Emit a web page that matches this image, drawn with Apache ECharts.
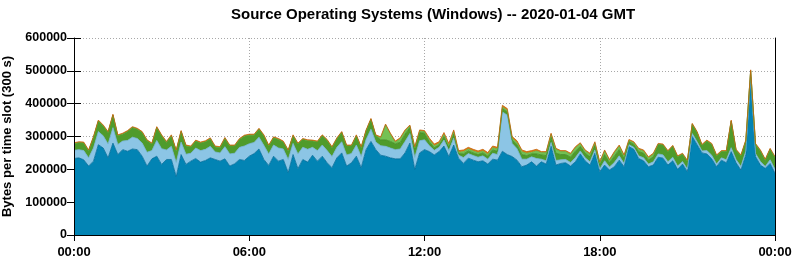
<!DOCTYPE html>
<html>
<head>
<meta charset="utf-8">
<script src="https://cdn.jsdelivr.net/npm/echarts@6/dist/echarts.min.js"></script>
<style>
html,body{margin:0;padding:0;background:#fff;}
#chart{width:795px;height:260px;}
</style>
</head>
<body>
<div id="chart"></div>
<script>
// values in thousands of bytes per 300 s slot, sampled every 10 minutes (00:00 .. 24:00)
const darkBlue = [233,235,229,210,225,275,265,235,280,245,260,255,262,260,240,210,232,240,215,230,230,178,245,215,225,
233,222,227,235,230,225,232,210,217,230,227,240,248,262,230,212,240,225,230,190,245,202,230,222,
243,225,240,220,205,235,250,210,220,240,205,260,285,260,243,240,235,232,232,250,280,200,250,260,
254,244,254,271,239,274,234,218,234,228,223,226,216,231,228,255,245,239,228,208,213,223,210,
223,216,271,213,218,220,210,223,247,226,213,249,193,213,198,208,228,208,269,261,233,226,208,213,
237,234,213,226,200,216,193,300,275,250,247,232,208,228,220,254,220,198,244,472,239,213,203,218,188];
const lightBlue = [25,25,28,25,40,40,37,42,47,31,26,33,36,34,40,42,25,48,48,29,40,43,38,31,24,
32,35,34,35,23,25,37,37,32,37,44,38,34,36,43,35,34,40,32,40,34,45,37,39,
24,32,34,37,34,32,34,34,28,34,34,31,37,23,29,30,30,28,30,35,29,36,37,30,
18,14,13,18,18,21,9,18,14,14,14,15,15,18,17,120,120,40,35,23,18,15,23,
8,10,11,14,11,10,11,13,9,9,10,10,8,13,9,13,13,10,6,6,8,9,8,10,
10,10,10,11,10,8,8,9,9,6,10,11,8,7,9,12,10,11,11,9,9,11,6,11,12];
const green = [20,21,23,21,32,32,30,35,38,26,21,27,29,28,32,35,20,39,39,23,32,35,32,25,19,
21,23,23,23,15,16,25,24,22,24,30,26,22,24,29,24,22,26,21,26,23,30,24,26,
19,26,28,31,27,26,28,27,23,28,27,26,30,19,18,20,20,18,20,22,18,25,25,20,
11,8,7,11,10,12,5,11,8,8,8,9,9,10,10,10,10,10,12,14,11,9,14,
13,16,16,22,16,15,16,19,14,14,15,14,12,19,13,19,19,15,9,9,13,14,12,15,
29,30,31,33,28,22,24,28,28,17,29,33,25,19,25,81,28,32,31,19,28,32,19,32,36];
const lightGreen = [0,0,0,0,0,0,0,0,0,0,0,0,0,0,0,0,0,0,0,0,0,0,0,0,0,
0,0,0,0,0,0,0,0,0,0,0,0,0,0,0,0,0,0,0,0,0,0,0,0,
0,0,0,0,0,0,0,0,0,0,0,0,0,0,6,45,22,5,11,10,5,5,5,5,
7,6,5,7,7,8,4,7,6,6,6,6,6,7,7,5,5,6,7,9,7,5,9,
7,9,9,12,9,9,9,11,8,7,8,8,7,11,7,11,11,8,4,5,7,7,7,8,
0,0,0,0,0,0,0,0,0,0,0,0,0,0,0,0,0,0,0,0,0,0,0,0,0];
const orange = [3,3,3,3,3,3,3,3,3,3,3,3,3,3,3,3,3,3,3,3,3,3,3,3,3,
3,3,3,3,3,3,3,3,3,3,3,3,3,3,3,3,3,3,3,3,3,3,3,3,
3,3,3,3,3,3,3,3,3,3,3,3,3,3,3,3,3,3,3,3,3,3,3,3,
5,5,5,5,5,5,5,5,5,5,5,5,5,5,5,5,5,5,5,5,5,5,5,
3,3,3,3,3,3,3,3,3,3,3,3,3,3,3,3,3,3,3,3,3,3,3,3,
3,3,3,3,3,3,3,3,3,3,3,3,3,3,3,3,3,3,3,3,3,3,3,3,3];
const yTickStep = 100000;

// category labels: time of each 10-minute sample
const times = darkBlue.map((_, i) => {
  const m = (i * 10) % 1440;
  return String(Math.floor(m / 60)).padStart(2, '0') + ':' + String(m % 60).padStart(2, '0');
});
const layers = [
  {name:'darkBlue', data:darkBlue, fill:'#0284b4', line:'#006b99'},
  {name:'lightBlue', data:lightBlue, fill:'#8cc5e5', line:'#72b2d8'},
  {name:'green', data:green, fill:'#4f9b2b', line:'#3f8a20'},
  {name:'lightGreen', data:lightGreen, fill:'#74c154', line:'#5fae40'},
  {name:'orange', data:orange, fill:'#e27b12', line:'#c4620a'}
];

const chart = echarts.init(document.getElementById('chart'), null, {renderer:'canvas'});
const font = 'Liberation Sans, Arial, sans-serif';
const dotted = {show:true, interval:35, lineStyle:{color:'#a8a8a8', type:[1,2], width:1}};
const xBase = {type:'value', min:0, max:1440, interval:360};
const yBase = {type:'value', min:0, max:600000, interval:yTickStep};
chart.setOption({
  animation:false,
  title:{text:'Source Operating Systems (Windows) -- 2020-01-04 GMT', left:226, top:2,
    textStyle:{fontFamily:font, fontSize:15, fontWeight:'bold', color:'#000'}},
  grid:{left:74, right:20, top:38, bottom:25, containLabel:false, outerBoundsMode:'none'},
  xAxis:[
    {type:'category', data:times, boundaryGap:false, position:'bottom', z:0,
      axisLine:{show:false}, axisTick:{show:false},
      axisLabel:{interval:35, margin:11, fontFamily:font, fontSize:13, fontWeight:'bold', color:'#000',
        showMinLabel:true, showMaxLabel:true},
      splitLine:dotted},
    Object.assign({}, xBase, {position:'top', z:0,
      axisLine:{show:true, lineStyle:{color:'#000', width:1}},
      axisTick:{show:true, inside:true, length:6, lineStyle:{color:'#000'}},
      axisLabel:{show:false}, splitLine:{show:false}}),
    Object.assign({}, xBase, {position:'bottom', z:10,
      axisLine:{show:true, lineStyle:{color:'#000', width:1}},
      axisTick:{show:false}, axisLabel:{show:false}, splitLine:{show:false}})
  ],
  yAxis:[
    Object.assign({}, yBase, {position:'left', z:0,
      name:'Bytes per time slot (300 s)', nameLocation:'middle', nameGap:49,
      nameTextStyle:{fontFamily:font, fontSize:13, fontWeight:'bold', color:'#000'},
      axisLine:{show:false},
      axisTick:{show:true, inside:true, length:7, lineStyle:{color:'#000'}},
      axisLabel:{margin:7, fontFamily:font, fontSize:12.5, fontWeight:'bold', color:'#000',
        formatter:(v)=>String(v)},
      splitLine:{show:true, lineStyle:{color:'#a8a8a8', type:[1,2], width:1}}}),
    Object.assign({}, yBase, {position:'right', z:0,
      axisLine:{show:false},
      axisTick:{show:true, inside:true, length:7, lineStyle:{color:'#000'}},
      axisLabel:{show:false}, splitLine:{show:false}}),
    Object.assign({}, yBase, {position:'left', z:10,
      axisLine:{show:true, lineStyle:{color:'#000', width:1}},
      axisTick:{show:false}, axisLabel:{show:false}, splitLine:{show:false}}),
    Object.assign({}, yBase, {position:'right', z:10,
      axisLine:{show:true, lineStyle:{color:'#000', width:1}},
      axisTick:{show:false}, axisLabel:{show:false}, splitLine:{show:false}})
  ],
  series: layers.map(l => ({
    name:l.name, type:'line', stack:'total', xAxisIndex:0, yAxisIndex:0,
    showSymbol:false, symbol:'none', smooth:false,
    lineStyle:{color:l.line, width:0.8},
    areaStyle:{color:l.fill, opacity:1},
    data: l.data.map(v => v * 1000)
  }))
});
</script>
</body>
</html>
